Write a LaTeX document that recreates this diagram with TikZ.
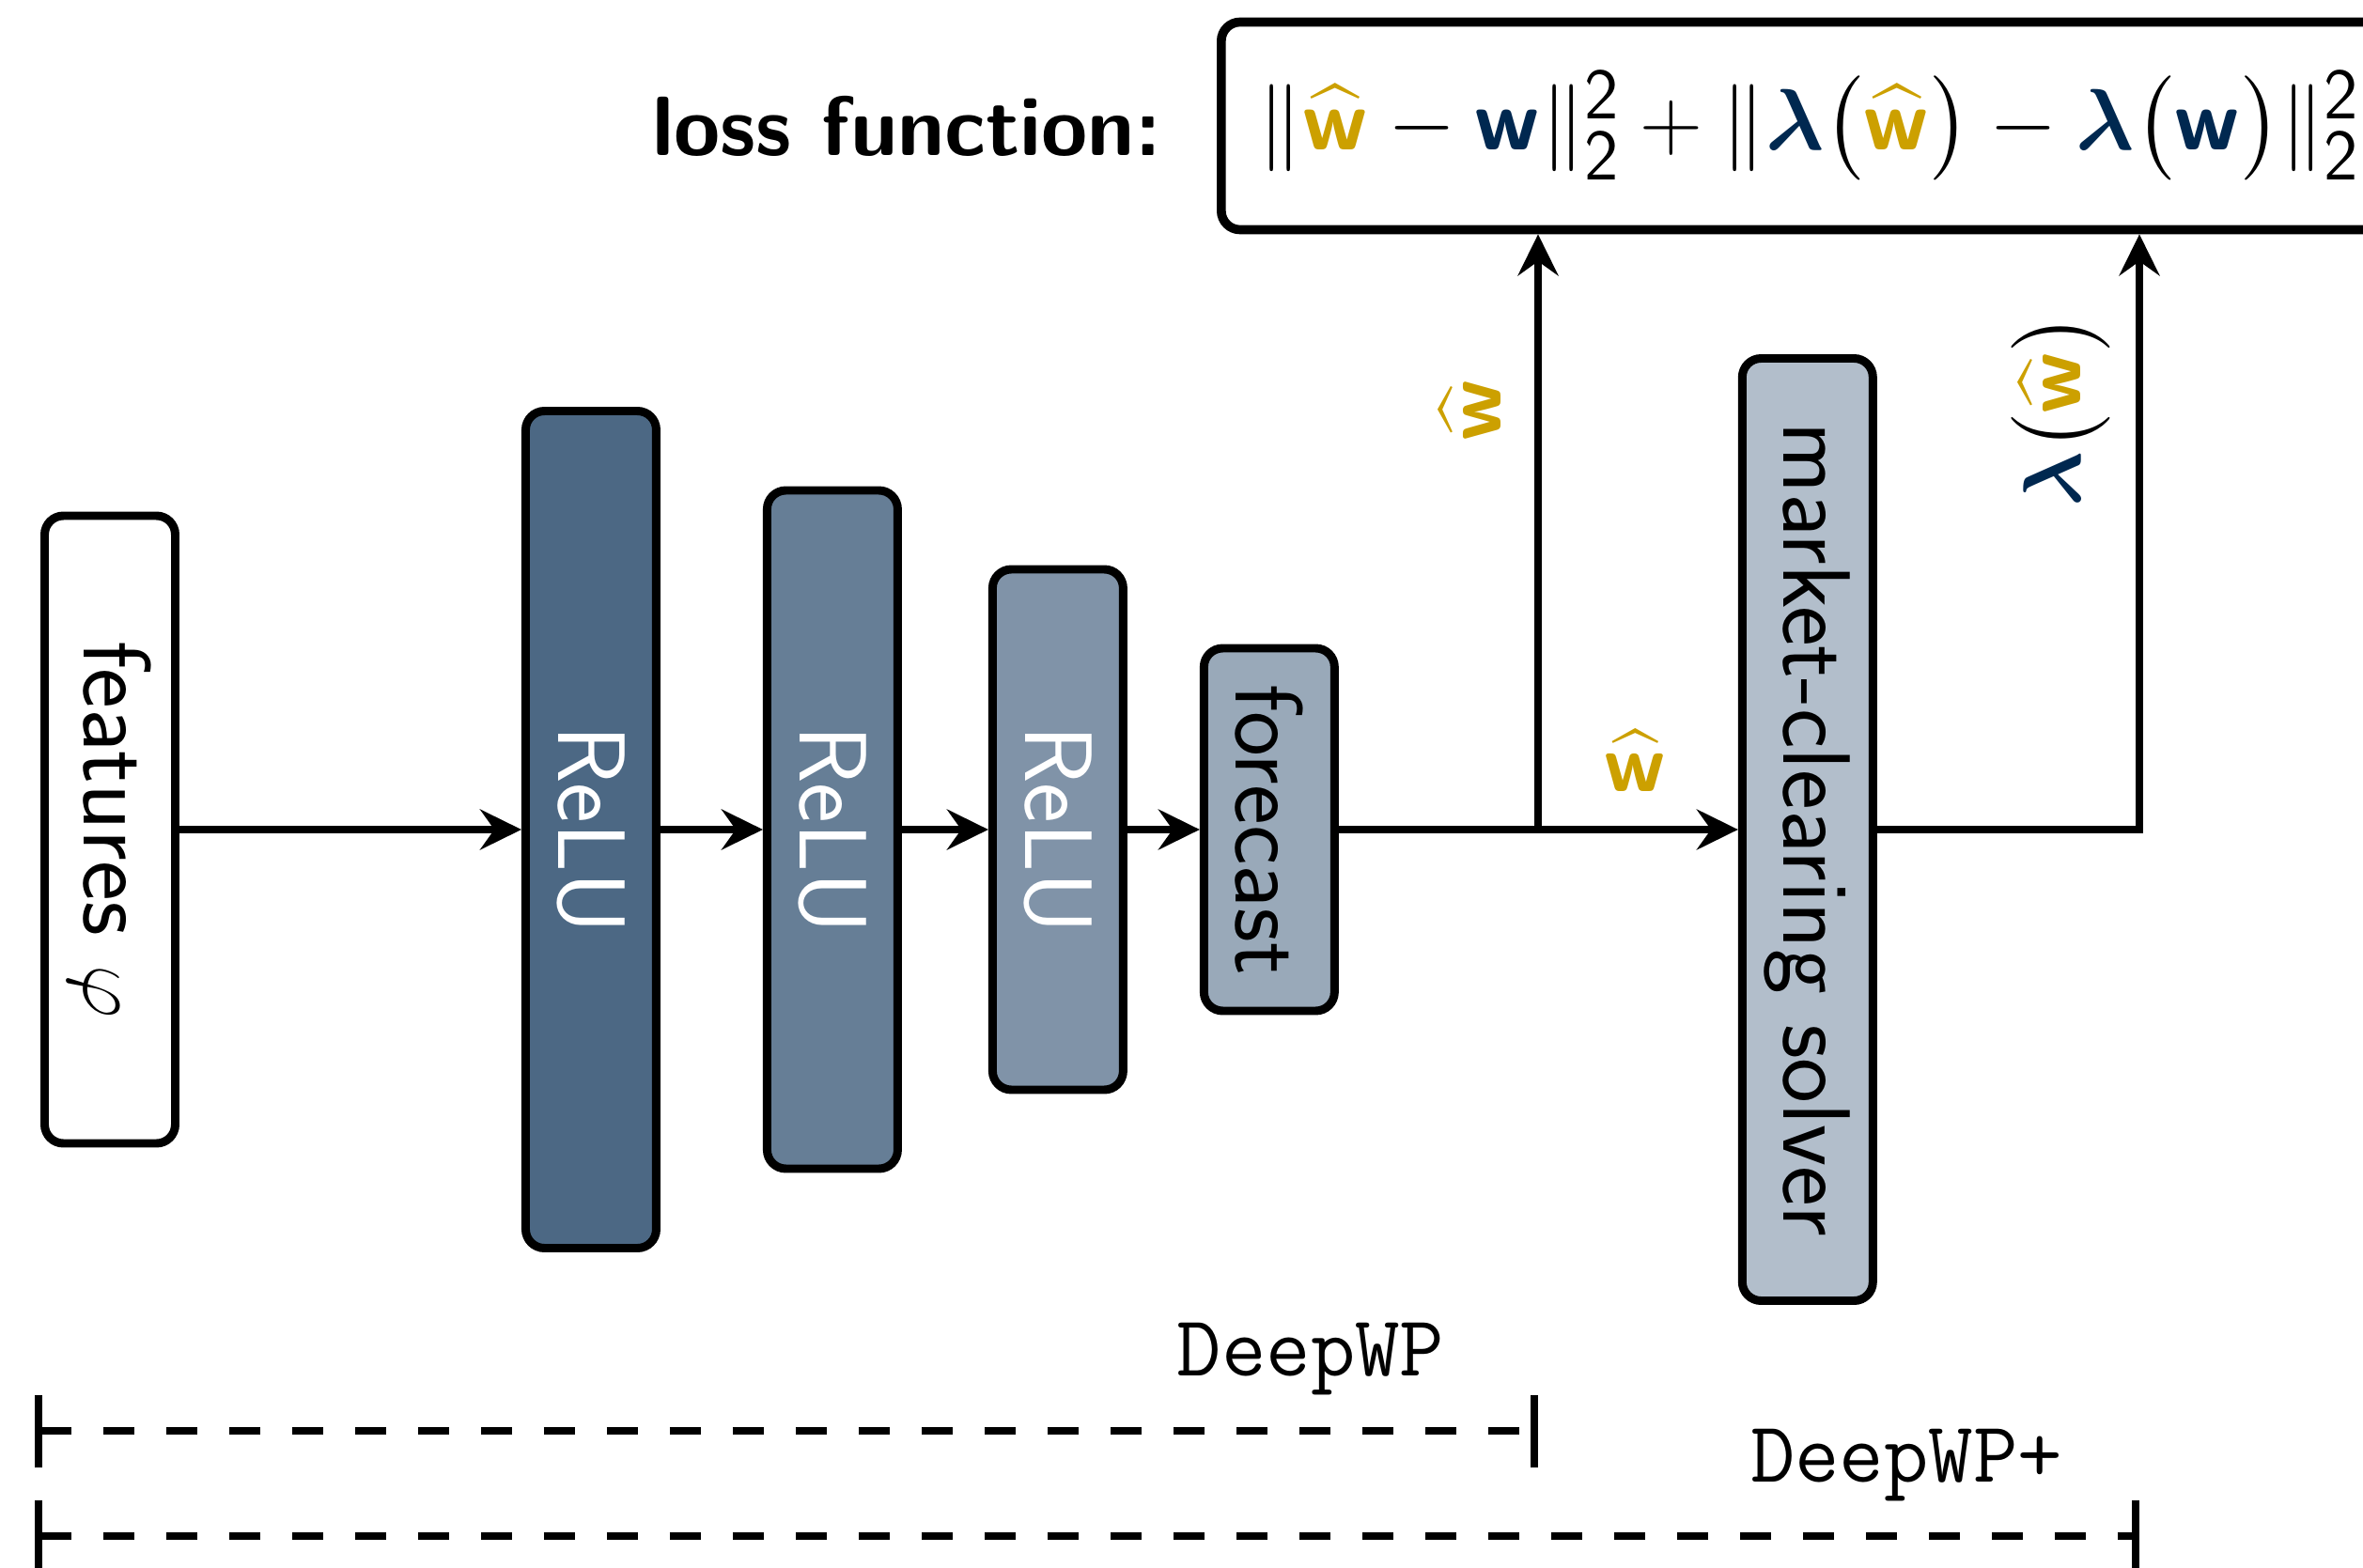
\documentclass[tikz,border=0pt]{standalone}
\usepackage{xcolor}
\usepackage{amsmath}
\usepackage{amssymb}
\usepackage{pgf}
\usepackage{tikz}
\usetikzlibrary{positioning, arrows.meta}

\definecolor{dgold}{RGB}{204,160,0}
\definecolor{dnavy}{RGB}{0,40,80}

\DeclareMathAlphabet{\mathbsf}{OT1}{cmss}{bx}{n}
\newcommand{\wpred}{{\color{dgold}\widehat{\mathbsf{w}}}}
\newcommand{\wtrue}{{\color{dnavy}\mathbsf{w}}}
\newcommand{\lamb}{{\color{dnavy}\boldsymbol{\lambda}}}

\begin{document}
\begin{tikzpicture}

\tikzstyle{every node}=[font=\fontsize{29}{34}\selectfont\sffamily]
\tikzstyle{layer}=[draw, line width=2.55pt, rounded corners=0.2cm, minimum width=1.39cm, inner sep=0pt]
\tikzstyle{flow}=[-{Stealth[length=12.5pt, width=12.2pt, inset=4.3pt]}, line width=2.1pt]
\tikzstyle{span}=[{Bar[width=0.77cm]}-{Bar[width=0.77cm]}, line width=2.25pt, dash pattern=on 0.33cm off 0.34cm]
\tikzstyle{mathlbl}=[font=\fontsize{24.88}{30}\selectfont]

\useasboundingbox (0,-7.85) rectangle (25.15,8.83);
\clip (0,-7.85) rectangle (25.15,8.83);

% nodes %
\node[layer, minimum height=6.68cm] (feat) at (1.17,0) {\rotatebox{-90}{features $\varphi$}};
\node[layer, fill=dnavy!70, text=white, minimum height=8.91cm, right = 3.64 of feat] (relu1) {\rotatebox{-90}{ReLU}};
\node[layer, fill=dnavy!60, text=white, minimum height=7.22cm, right = 1.09 of relu1] (relu2) {\rotatebox{-90}{ReLU}};
\node[layer, fill=dnavy!50, text=white, minimum height=5.54cm, right = 0.92 of relu2] (relu3) {\rotatebox{-90}{ReLU}};
\node[layer, fill=dnavy!40, minimum height=3.86cm, right = 0.77 of relu3] (fcst) {\rotatebox{-90}{forecast}};
\node[layer, fill=dnavy!30, minimum height=10.03cm, right = 4.25 of fcst] (solver) {\rotatebox{-90}{market-clearing solver}};

\node[draw, line width=2.75pt, rounded corners=0.2cm, minimum height=2.21cm, inner sep=0.4cm, text width=12.6cm, align=left, anchor=west, mathlbl] (loss) at (12.95,7.49)
  {\scalebox{1.06}{$\|\wpred - \wtrue\|_{\mathsf{2}}^{\mathsf{2}} + \|\lamb\bigl(\wpred\bigr) - \lamb\bigl(\wtrue\bigr)\|_{\mathsf{2}}^{\mathsf{2}}$}};
\node[left = 0.47 of loss, font=\fontsize{25.5}{31}\selectfont\sffamily\bfseries] (losstxt) {loss function:};

\coordinate (split) at (16.37,0);
\coordinate (turn) at (22.77,0);

% labels %
\node[mathlbl, rotate=90] (wup) at (15.65,4.47) {$\wpred$};
\node[mathlbl] (wright) at (17.41,0.73) {$\wpred$};
\node[mathlbl, rotate=90] (lamup) at (21.93,4.46) {$\lamb\bigl(\wpred\bigr)$};

\node[font=\fontsize{26.2}{31}\selectfont\ttfamily] (deepwp) at (13.95,-5.64) {DeepWP};
\node[font=\fontsize{26.2}{31}\selectfont\ttfamily] (deepwpp) at (20.29,-6.77) {DeepWP+};

% edges %
\draw[flow] (feat) -- (relu1);
\draw[flow] (relu1) -- (relu2);
\draw[flow] (relu2) -- (relu3);
\draw[flow] (relu3) -- (fcst);
\draw[flow] (fcst) -- (solver);
\draw[flow] (split) -- (split |- loss.south);
\draw[flow] (solver.east) -| (turn |- loss.south);

% spans %
\coordinate (spanA) at (0.37,-6.40);
\coordinate (spanB) at (0.37,-7.52);
\draw[span] (spanA) -- (split |- spanA);
\draw[span] (spanB) -- (turn |- spanB);

\end{tikzpicture}
\end{document}
